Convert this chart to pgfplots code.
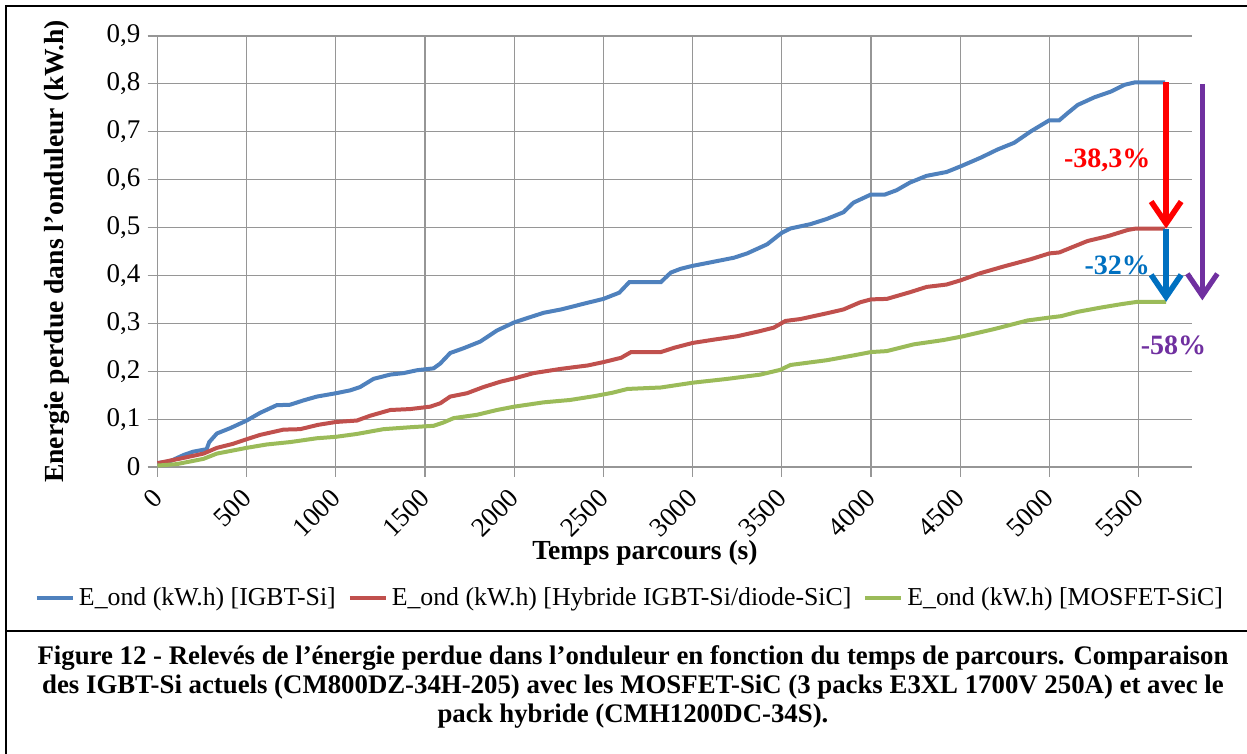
\documentclass[border=0pt]{standalone}
\usepackage{fontspec}
\setmainfont{Liberation Serif}
\usepackage{pgfplots}
\pgfplotsset{compat=1.18}
\usetikzlibrary{arrows.meta}

\definecolor{igbt}{RGB}{79,129,189}
\definecolor{hyb}{RGB}{192,80,77}
\definecolor{mos}{RGB}{155,187,89}
\definecolor{arrred}{RGB}{255,0,0}
\definecolor{arrblue}{RGB}{0,112,192}
\definecolor{arrpurple}{RGB}{112,48,160}
\definecolor{gridgray}{RGB}{150,150,150}

\begin{document}
\begin{tikzpicture}
\useasboundingbox (0,0) rectangle (623.5pt,377pt);
% frame of the figure
\draw[line width=1.4pt] (3pt,0) -- (3pt,374pt) -- (623.5pt,374pt);
\draw[line width=1.4pt] (3pt,61.5pt) -- (623.5pt,61.5pt);

\begin{axis}[
  at={(78.75pt,143.5pt)}, anchor=south west,
  scale only axis,
  width=517.25pt, height=215.5pt,
  xmin=0, xmax=5800, ymin=0, ymax=0.9,
  xtick={0,500,...,5500},
  ytick={0,0.1,...,0.9},
  axis x line*=bottom, axis y line*=left,
  axis line style={gridgray,line width=0.6pt,-},
  grid=major,
  grid style={gridgray,line width=0.6pt},
  tick align=outside,
  major tick length=5pt,
  tick style={gridgray,line width=0.6pt},
  /pgf/number format/.cd, use comma, 1000 sep={}, assume math mode=true,
  /pgfplots/.cd,
  tick label style={font=\fontsize{13.5}{16}\selectfont},
  xticklabel style={rotate=45, anchor=east, xshift=-2.5pt, yshift=-6pt},
  yticklabel style={/pgf/number format/fixed},
  xlabel={\textbf{Temps parcours (s)}},
  ylabel={\textbf{Energie perdue dans l’onduleur (kW.h)}},
  label style={font=\fontsize{13.8}{16}\selectfont},
  xlabel style={at={(axis description cs:0.4712,-0.2)}, anchor=center},
  ylabel style={at={(axis description cs:-0.0971,0.5)}, anchor=center},
  legend columns=3,
  legend style={draw=none, fill=none, at={(axis description cs:0.4577,-0.304)}, anchor=center,
    font=\fontsize{12.9}{15}\selectfont,
    /tikz/every even column/.append style={column sep=4pt}},
  legend image code/.code={\draw[#1] (0pt,0pt) -- (18pt,0pt);},
  clip=false,
]
\addplot[igbt, line width=2pt] coordinates {
(0,0.008) (70,0.012) (146,0.025) (200,0.032) (258,0.036) (275,0.037) (290,0.052)
(333,0.070) (407,0.081) (500,0.097) (575,0.113) (668,0.129) (743,0.130) (818,0.139)
(893,0.147) (1000,0.154) (1080,0.160) (1136,0.167) (1211,0.184) (1305,0.193)
(1379,0.196) (1454,0.202) (1548,0.206) (1585,0.216) (1641,0.238) (1716,0.248)
(1810,0.262) (1903,0.285) (2000,0.302) (2090,0.313) (2165,0.322) (2263,0.329)
(2412,0.343) (2500,0.351) (2589,0.364) (2645,0.386) (2822,0.386) (2878,0.406)
(2934,0.414) (3000,0.420) (3083,0.426) (3232,0.437) (3306,0.446) (3418,0.465)
(3500,0.489) (3548,0.498) (3660,0.507) (3753,0.518) (3846,0.532) (3902,0.552)
(4000,0.569) (4079,0.569) (4144,0.578) (4219,0.594) (4312,0.608) (4424,0.616)
(4504,0.628) (4616,0.646) (4710,0.663) (4803,0.677) (4897,0.701) (5000,0.724)
(5056,0.724) (5103,0.739) (5159,0.756) (5253,0.772) (5346,0.784) (5421,0.798)
(5478,0.803) (5650,0.803)
};
\addplot[hyb, line width=2pt] coordinates {
(0,0.008) (146,0.019) (258,0.028) (333,0.040) (420,0.048) (500,0.058) (575,0.067)
(706,0.078) (800,0.079) (900,0.088) (1000,0.094) (1118,0.097) (1192,0.107)
(1305,0.119) (1417,0.121) (1529,0.126) (1585,0.133) (1641,0.147) (1735,0.154)
(1828,0.167) (1922,0.178) (2000,0.185) (2108,0.196) (2263,0.205) (2412,0.212)
(2500,0.219) (2599,0.228) (2655,0.240) (2822,0.240) (2897,0.249) (3000,0.259)
(3120,0.266) (3250,0.273) (3381,0.284) (3455,0.291) (3521,0.305) (3605,0.309)
(3753,0.321) (3846,0.329) (3940,0.344) (4000,0.350) (4089,0.351) (4219,0.365)
(4312,0.376) (4424,0.381) (4504,0.390) (4616,0.405) (4747,0.419) (4897,0.434)
(5000,0.446) (5056,0.448) (5122,0.458) (5215,0.472) (5328,0.482) (5440,0.495)
(5487,0.498) (5650,0.498)
};
\addplot[mos, line width=2pt] coordinates {
(0,0.003) (108,0.006) (258,0.017) (333,0.028) (500,0.040) (612,0.047) (743,0.052)
(893,0.060) (1000,0.063) (1118,0.069) (1267,0.079) (1417,0.083) (1548,0.086)
(1604,0.093) (1660,0.102) (1791,0.109) (1903,0.119) (2000,0.126) (2165,0.135)
(2314,0.140) (2450,0.148) (2550,0.155) (2636,0.163) (2822,0.166) (3000,0.176)
(3195,0.184) (3381,0.193) (3493,0.203) (3548,0.213) (3753,0.223) (3902,0.233)
(4000,0.240) (4089,0.242) (4238,0.256) (4405,0.265) (4504,0.272) (4691,0.288)
(4878,0.306) (5000,0.312) (5066,0.315) (5159,0.324) (5290,0.333) (5403,0.340)
(5496,0.345) (5655,0.345)
};
\legend{E\_ond (kW.h) [IGBT-Si],E\_ond (kW.h) [Hybride IGBT-Si/diode-SiC],E\_ond (kW.h) [MOSFET-SiC]}

% reduction arrows and labels
\draw[arrred, line width=2.8pt, -{Straight Barb[length=11pt,width=15pt]}] (axis cs:5655,0.803) -- (axis cs:5655,0.498);
\draw[arrblue, line width=2.8pt, -{Straight Barb[length=11pt,width=15pt]}] (axis cs:5655,0.498) -- (axis cs:5655,0.345);
\draw[arrpurple, line width=2.6pt, -{Straight Barb[length=11pt,width=15pt]}] (axis cs:5858,0.800) -- (axis cs:5858,0.348);
\node[arrred, font=\fontsize{14}{16}\selectfont\bfseries] at (axis cs:5325,0.640) {-38,3\%};
\node[arrblue, font=\fontsize{14}{16}\selectfont\bfseries] at (axis cs:5381,0.421) {-32\%};
\node[arrpurple, font=\fontsize{14}{16}\selectfont\bfseries] at (axis cs:5696,0.254) {-58\%};
\end{axis}

\node[align=center, font=\fontsize{13.4}{14.6}\selectfont\bfseries] at (316.5pt,33.5pt)
{Figure 12 - Relevés de l’énergie perdue dans l’onduleur en fonction du temps de parcours. Comparaison\\
des IGBT-Si actuels (CM800DZ-34H-205) avec les MOSFET-SiC (3 packs E3XL 1700V 250A) et avec le\\
pack hybride (CMH1200DC-34S).};
\end{tikzpicture}
\end{document}
